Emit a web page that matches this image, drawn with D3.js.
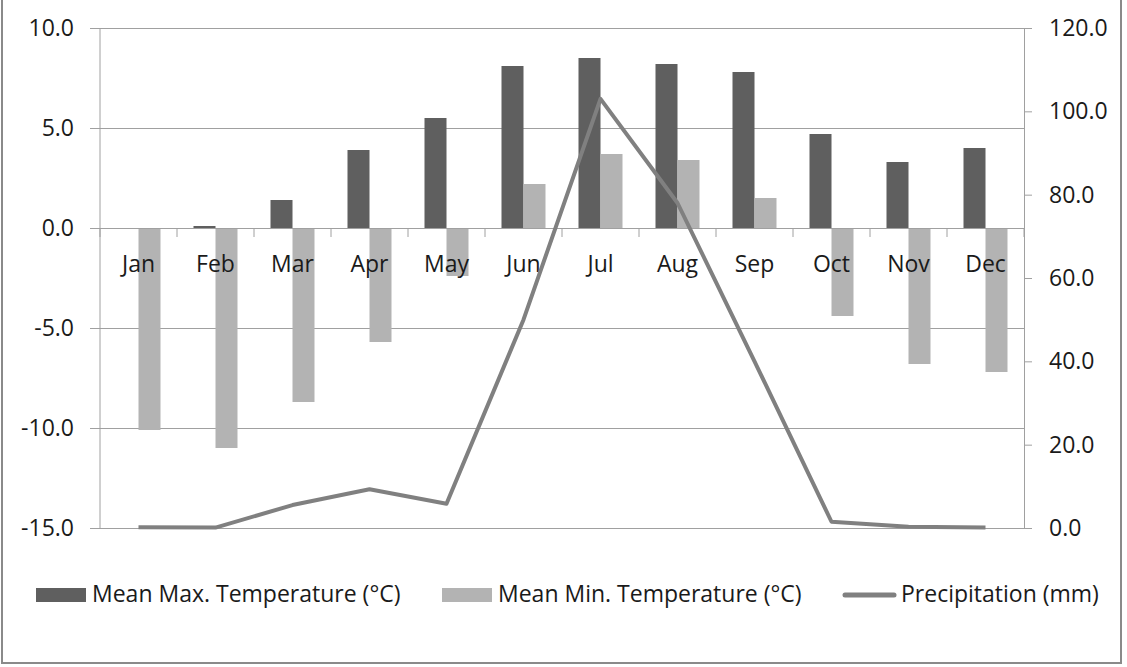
<!DOCTYPE html>
<html>
<head>
<meta charset="utf-8">
<script src="https://cdn.jsdelivr.net/npm/d3@7"></script>
<style>
  body { margin: 0; background: #fff; }
  text { font-family: "Open Sans", "Liberation Sans", Arial, sans-serif; fill: #1a1a1a; }
</style>
</head>
<body>
<script>
let months = ['Jan', 'Feb', 'Mar', 'Apr', 'May', 'Jun', 'Jul', 'Aug', 'Sep', 'Oct', 'Nov', 'Dec']
let maxTemp = [0, 0.1, 1.4, 3.9, 5.5, 8.1, 8.5, 8.2, 7.8, 4.7, 3.3, 4.0]
let minTemp = [-10.1, -11.0, -8.7, -5.7, -2.4, 2.2, 3.7, 3.4, 1.5, -4.4, -6.8, -7.2]
let precip = [0.2, 0.1, 5.5, 9.3, 5.8, 50, 103, 78, 40, 1.5, 0.3, 0.1]
let tempTicks = [-15, -10, -5, 0, 5, 10]
let precipTicks = [0, 20, 40, 60, 80, 100, 120]
let seriesNames = ['Mean Max. Temperature (°C)', 'Mean Min. Temperature (°C)', 'Precipitation (mm)']

let W = 1127, H = 667
let plot = { left: 100, right: 1024, top: 28, bottom: 528 }
let darkGrey = '#5f5f5f', lightGrey = '#b3b3b3', lineGrey = '#808080', gridGrey = '#a0a0a0'

let svg = d3.select('body').append('svg')
  .attr('width', W)
  .attr('height', H)

// outer frame
svg.append('rect')
  .attr('x', 2).attr('y', -3)
  .attr('width', 1119).attr('height', 666)
  .attr('fill', 'none')
  .attr('stroke', '#8a8a8a')
  .attr('stroke-width', 2)

let x = d3.scaleBand().domain(months).range([plot.left, plot.right]).paddingInner(0.4286).paddingOuter(0.2143)
let xs = d3.scaleBand().domain(['max', 'min']).range([0, x.bandwidth()])
let y = d3.scaleLinear().domain([-15, 10]).range([plot.bottom, plot.top])
let y2 = d3.scaleLinear().domain([0, 120]).range([plot.bottom, plot.top])

// left axis: gridlines + outer ticks + labels in one go
let gLeft = svg.append('g')
  .attr('transform', 'translate(' + plot.right + ',0)')
  .call(d3.axisLeft(y).tickValues(tempTicks).tickSize(plot.right - plot.left + 10).tickPadding(16).tickFormat(d => d.toFixed(1)))
gLeft.select('.domain').remove()
gLeft.selectAll('line').attr('stroke', gridGrey)
gLeft.selectAll('text').style('font-size', '23px')

// bars
let barData = months.map((m, i) => ({ m: m, max: maxTemp[i], min: minTemp[i] }))
let groups = svg.append('g').selectAll('g').data(barData).join('g')
  .attr('transform', d => 'translate(' + x(d.m) + ',0)')
groups.append('rect')
  .attr('x', xs('max'))
  .attr('width', xs.bandwidth())
  .attr('y', d => y(Math.max(0, d.max)))
  .attr('height', d => Math.abs(y(d.max) - y(0)))
  .attr('fill', darkGrey)
groups.append('rect')
  .attr('x', xs('min'))
  .attr('width', xs.bandwidth())
  .attr('y', d => y(Math.max(0, d.min)))
  .attr('height', d => Math.abs(y(d.min) - y(0)))
  .attr('fill', lightGrey)

// left axis line
svg.append('line')
  .attr('x1', plot.left).attr('x2', plot.left)
  .attr('y1', plot.top).attr('y2', plot.bottom)
  .attr('stroke', gridGrey)

// right axis
let gRight = svg.append('g')
  .attr('transform', 'translate(' + plot.right + ',0)')
  .call(d3.axisRight(y2).tickValues(precipTicks).tickSize(8).tickSizeOuter(0).tickPadding(17).tickFormat(d => d.toFixed(1)))
gRight.selectAll('line, path').attr('stroke', gridGrey)
gRight.selectAll('text').style('font-size', '23px')

// category axis at zero
let gX = svg.append('g')
  .attr('transform', 'translate(0,' + y(0) + ')')
  .call(d3.axisBottom(x).tickSize(0).tickPadding(28))
gX.select('.domain').attr('stroke', gridGrey)
gX.selectAll('text').style('font-size', '23px')

svg.append('g').selectAll('line')
  .data(d3.range(months.length + 1))
  .join('line')
  .attr('x1', i => plot.left + i * x.step())
  .attr('x2', i => plot.left + i * x.step())
  .attr('y1', y(0)).attr('y2', y(0) + 9)
  .attr('stroke', gridGrey)

// precipitation line
let line = d3.line()
  .x((d, i) => x(months[i]) + x.bandwidth() / 2)
  .y(d => y2(d))
svg.append('path')
  .datum(precip)
  .attr('d', line)
  .attr('fill', 'none')
  .attr('stroke', lineGrey)
  .attr('stroke-width', 4)
  .attr('stroke-linejoin', 'round')

// legend
let legendX = [36, 442, 842]
let legend = svg.append('g').selectAll('g').data(seriesNames).join('g')
  .attr('transform', (d, i) => 'translate(' + legendX[i] + ',0)')
legend.filter((d, i) => i < 2).append('rect')
  .attr('x', 0).attr('y', 588)
  .attr('width', 50).attr('height', 14)
  .attr('fill', (d, i) => i == 0 ? darkGrey : lightGrey)
legend.filter((d, i) => i == 2).append('line')
  .attr('x1', 3).attr('x2', 52)
  .attr('y1', 595).attr('y2', 595)
  .attr('stroke', lineGrey)
  .attr('stroke-width', 5)
  .attr('stroke-linecap', 'round')
legend.append('text')
  .attr('x', (d, i) => i == 2 ? 59 : 56)
  .attr('y', 602)
  .style('font-size', '23px')
  .text(d => d)
</script>
</body>
</html>
